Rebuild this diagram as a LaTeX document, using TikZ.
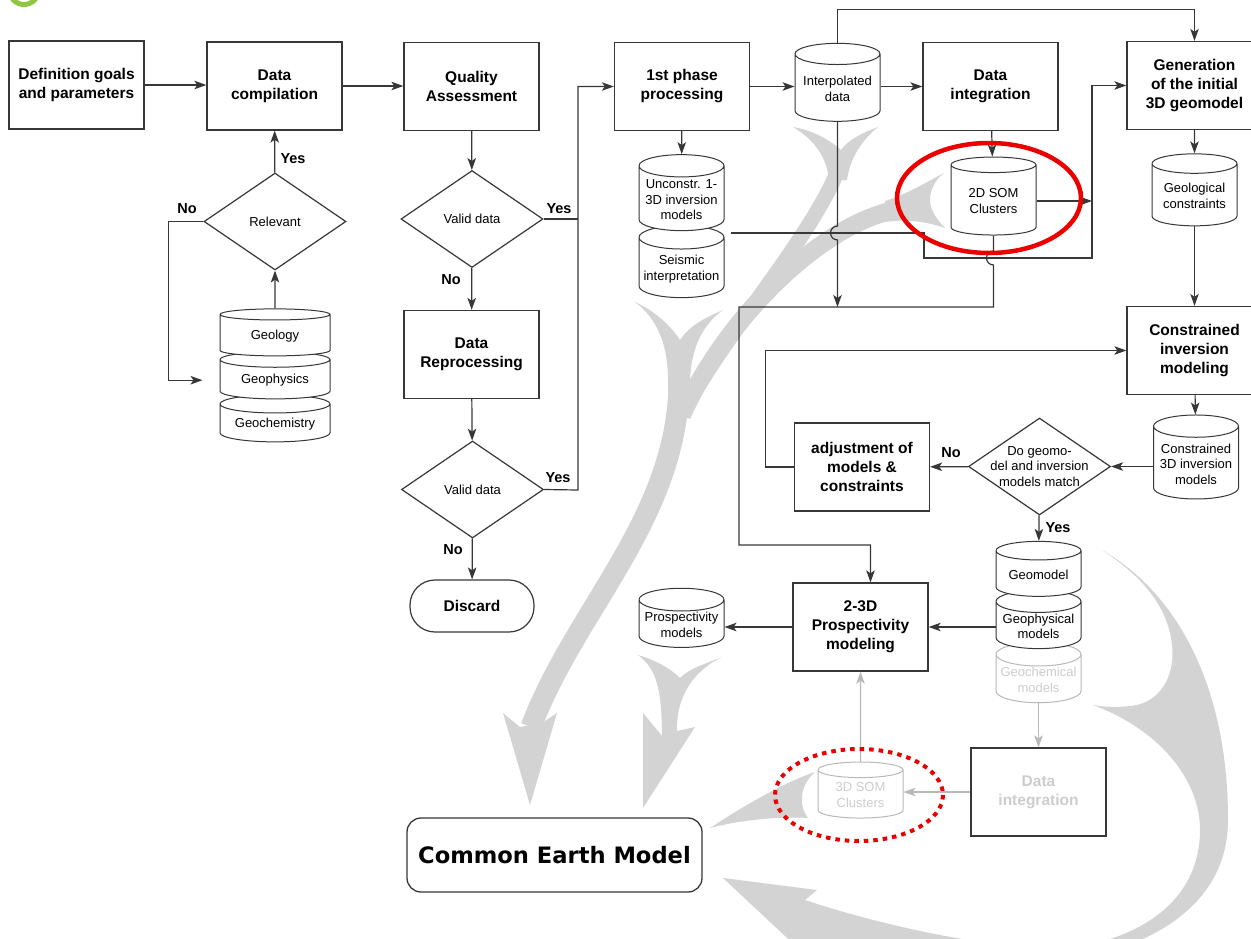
\documentclass[tikz,border=0pt]{standalone}
\usepackage{fontspec}
\setmainfont{Liberation Sans}
\newfontfamily\cemfont{DejaVu Sans}
\usetikzlibrary{arrows.meta,positioning,shapes.geometric}
\definecolor{linegray}{RGB}{55,55,55}
\definecolor{swoosh}{RGB}{211,211,211}
\definecolor{faded}{RGB}{185,185,185}
\definecolor{fadedtext}{RGB}{205,205,205}
\definecolor{ringgreen}{RGB}{141,198,63}
\definecolor{markred}{RGB}{235,0,0}
\tikzset{box/.style={draw=linegray,line width=1.3pt,fill=white,align=center,minimum width=135pt,minimum height=88pt,inner sep=2pt,font=\fontsize{15.5}{19}\selectfont\bfseries},
drum/.style={draw=linegray,line width=1pt,fill=white,cylinder,shape border rotate=90,aspect=0.3,minimum width=85pt,minimum height=56pt,inner sep=1pt,align=center,font=\fontsize{13}{15.5}\selectfont},
decision/.style={draw=linegray,line width=1.2pt,fill=white,diamond,shape aspect=1.45,minimum width=142pt,minimum height=97pt,inner sep=0pt,align=center,font=\fontsize{13}{15.5}\selectfont},
line/.style={line width=1.2pt,draw=linegray},
arrow/.style={line,-{Stealth[length=12pt,width=8.5pt,inset=3pt]}},
faint/.style={line width=1.1pt,draw=faded,-{Stealth[length=12pt,width=8.5pt,inset=3pt]}},
answer/.style={font=\fontsize{14.5}{17}\selectfont\bfseries}}

\begin{document}
\begin{tikzpicture}[x=1pt,y=-1pt]
\useasboundingbox (0,0) rectangle (1251,938);
\clip (0,0) rectangle (1251,938);
% grey flows towards the common earth model
\fill[swoosh] (635,302) .. controls (657,318) and (668,345) .. (668,380) -- (668,415) -- (690,415) -- (690,385) .. controls (690,350) and (702,325) .. (723,310) .. controls (705,318) and (690,325) .. (680,340) .. controls (668,322) and (652,310) .. (635,302) -- cycle;
\fill[swoosh] (793,127) .. controls (815,140) and (827,158) .. (829,180) -- (847,180) .. controls (850,158) and (862,140) .. (878,127) .. controls (862,133) and (848,140) .. (841,150) .. controls (830,140) and (812,130) .. (793,127) -- cycle;
\fill[swoosh] (944,173) .. controls (925,183) and (905,195) .. (885,201) -- (885,222) .. controls (905,219) and (925,221) .. (945,228) .. controls (935,218) and (930,208) .. (930,200) .. controls (930,190) and (935,180) .. (944,173) -- cycle;
\draw[swoosh,line width=15pt] (838,170) .. controls (810,240) and (720,340) .. (682,415);
\draw[swoosh,line width=18pt] (890,211) .. controls (815,230) and (725,320) .. (682,415);
\draw[swoosh,line width=21pt] (679,385) .. controls (676,520) and (575,610) .. (531,727);
\fill[swoosh] (503,713) -- (520,727) -- (542,723) -- (557,713) -- (530,805) -- cycle;
\fill[swoosh] (638,655) .. controls (655,668) and (662,685) .. (662,737) -- (677,731) .. controls (676,695) and (695,670) .. (722,657) .. controls (705,664) and (690,668) .. (680,678) .. controls (670,668) and (655,660) .. (638,655) -- cycle;
\fill[swoosh] (643,713) -- (662,736) -- (677,731) -- (695,727) -- (643,808) -- cycle;
\fill[swoosh] (710,828) .. controls (745,805) and (785,782) .. (815,772) .. controls (800,785) and (798,805) .. (808,818) .. controls (780,816) and (740,820) .. (710,828) -- cycle;
\fill[swoosh] (1102,550) .. controls (1180,595) and (1228,690) .. (1228,820) .. controls (1228,930) and (1100,975) .. (950,968) .. controls (880,965) and (830,955) .. (800,950) -- (723,878) -- (817,890) -- (805,900) .. controls (880,925) and (1040,965) .. (1113,938) .. controls (1180,915) and (1200,870) .. (1200,830) .. controls (1200,780) and (1160,730) .. (1093,705) .. controls (1110,708) and (1125,707) .. (1137,705) .. controls (1165,698) and (1175,670) .. (1172,645) .. controls (1168,605) and (1140,575) .. (1102,550) -- cycle;
\draw[ringgreen,line width=5pt] (24,-10) circle[radius=14.5];

% top row
\node[box] (goals) at (76.5,85) {Definition goals\\and parameters};
\node[box] (compil) at (274.5,86) {Data\\compilation};
\node[box] (quality) at (471.5,86.5) {Quality\\Assessment};
\node[box] (phase1) at (682,86.5) {1st phase\\processing};
\node[drum,minimum height=78pt] (interp) at (837.5,89) {Interpolated\\data};
\node[box] (integ) at (990.5,86.5) {Data\\integration};
\node[box] (geoinit) at (1194.5,85.5) {Generation\\of the initial\\3D geomodel};

% data sources
\node[decision] (relevant) at (275,221.5) {Relevant};
\node[drum,aspect=0.22,minimum width=110pt,minimum height=47pt] (geochem) at (275,424) {Geochemistry};
\node[drum,aspect=0.22,minimum width=110pt,minimum height=47pt,above=-5pt of geochem] (geophys) {Geophysics};
\node[drum,aspect=0.22,minimum width=110pt,minimum height=47pt,above=-5pt of geophys] (geology) {Geology};

% quality loop
\node[decision] (valid1) at (472,219) {Valid data};
\node[box] (reproc) at (471.5,354.5) {Data\\Reprocessing};
\node[decision] (valid2) at (472.5,489.5) {Valid data};
\node[draw=linegray,line width=1.2pt,rounded corners=25pt,minimum width=124pt,minimum height=52pt,font=\fontsize{15.5}{19}\selectfont\bfseries] (discard) at (472,606) {Discard};

% first results
\node[drum,minimum height=72pt] (seismic) at (681.5,269) {Seismic\\interpretation};
\node[drum,minimum height=76pt,above=-6pt of seismic] (unconstr) {Unconstr. 1-\\3D inversion\\models};
\node[drum,minimum height=78pt] (som2d) at (993.5,201) {2D SOM\\Clusters};
\node[drum,minimum height=72pt] (geocons) at (1194.5,196) {Geological\\constraints};

% constrained modelling
\node[box] (consinv) at (1194.5,350.5) {Constrained\\inversion\\modeling};
\node[drum,minimum height=84pt] (cons3d) at (1196,464) {Constrained\\3D inversion\\models};
\node[decision,inner sep=-22pt] (match) at (1039.5,466.5) {\fontsize{13}{13.5}\selectfont Do geomo-\\del and inversion\\models match};
\node[box] (adjust) at (862,467) {adjustment of\\models \&\\constraints};

% prospectivity
\node[drum,minimum height=55pt,draw=faded,text=fadedtext] (geochem2) at (1038.5,680) {Geochemical\\models};
\node[drum,minimum height=55pt,above=-7pt of geochem2] (geophys2) {Geophysical\\models};
\node[drum,minimum height=55pt,above=-7pt of geophys2] (geomodel) {Geomodel};
\node[box] (prosp23) at (860.5,627) {2-3D\\Prospectivity\\modeling};
\node[drum,minimum height=56pt] (prospmod) at (681.5,625) {Prospectivity\\models};
\node[box,text=fadedtext] (integ2) at (1038.5,792) {Data\\integration};
\node[drum,minimum height=56pt,draw=faded,text=fadedtext] (som3d) at (860.5,795) {3D SOM\\Clusters};
\node[draw=linegray,line width=1.3pt,fill=white,rounded corners=14pt,minimum width=295pt,minimum height=74pt,font=\cemfont\bfseries\fontsize{22.6}{26}\selectfont] (cem) at (554.5,855) {Common Earth Model};

% connectors
\draw[arrow] (goals.east) -- (goals.east -| compil.west);
\draw[arrow] (compil.east) -- (compil.east -| quality.west);
\draw[arrow] (quality) -- (valid1);
\draw[arrow] (valid1) -- (reproc);
\draw[arrow] (reproc) -- (valid2);
\draw[arrow] (valid2) -- (discard);
\coordinate (yesbus) at (578,490);
\draw[line] (valid1.east) -- (valid1.east -| yesbus);
\draw[arrow] (valid2.east) -- (yesbus) |- (phase1.west);
\draw[arrow] (geology) -- (relevant);
\draw[arrow] (relevant) -- (compil);
\draw[arrow,shorten >=17pt] (relevant.west) -- ++(-35,0) |- (geophys.west);
\draw[arrow] (phase1.east) -- (phase1.east -| interp.west);
\draw[arrow] (integ.west -| interp.east) -- (integ.west);
\draw[arrow] (interp.north) -- ++(0,-33) -| (geoinit.north);
\draw[arrow] (phase1) -- (unconstr);
\draw[arrow] (integ) -- (som2d);
\coordinate (busstart) at (731,233);
\coordinate (busturn) at (1092,258);
\draw[arrow] (busstart) -- (924,233) -- (924,258) -- (busturn) |- (geoinit.west);
\draw[arrow] (som2d.east) -- (som2d.east -| busturn);
\draw[arrow] (interp.south) -- (837.5,226) arc[start angle=270,end angle=90,radius=7] -- (837.5,307);
\draw[arrow] (som2d.south) -- (993.5,251) arc[start angle=270,end angle=90,radius=7] -- (993.5,307) -| (739,545) -| ([xshift=10pt]prosp23.north);
\draw[arrow] (geoinit) -- (geocons);
\draw[arrow] (geocons) -- (consinv);
\draw[arrow] (consinv) -- (cons3d);
\draw[arrow] (match.east -| cons3d.west) -- (match.east);
\draw[arrow] (match) -- (adjust);
\draw[arrow] (adjust.west) -- ++(-28,0) |- (consinv.west);
\draw[arrow] (match) -- (geomodel);
\draw[arrow] (prosp23.east -| geophys2.west) -- (prosp23.east);
\draw[arrow] (prosp23.west) -- (prosp23.west -| prospmod.east);
\draw[faint] (geochem2) -- (integ2);
\draw[faint] (integ2.west) -- (integ2.west -| som3d.east);
\draw[faint] (som3d) -- (prosp23);

% answers
\node[answer] (yesrel) at (293,159) {Yes};
\node[answer] (norel) at (187,209) {No};
\node[answer] (yesv1) at (559,209) {Yes};
\node[answer] (nov1) at (451,280) {No};
\node[answer] (yesv2) at (558,478) {Yes};
\node[answer] (nov2) at (453,550) {No};
\node[answer] (nomatch) at (951,453) {No};
\node[answer] (yesmatch) at (1058,528) {Yes};

% highlights
\draw[markred,line width=4.5pt] (989,198) ellipse[x radius=92,y radius=55];
\draw[markred,line width=4pt,dash pattern=on 4.5pt off 5pt] (859,795) ellipse[x radius=84,y radius=46];
\end{tikzpicture}
\end{document}
